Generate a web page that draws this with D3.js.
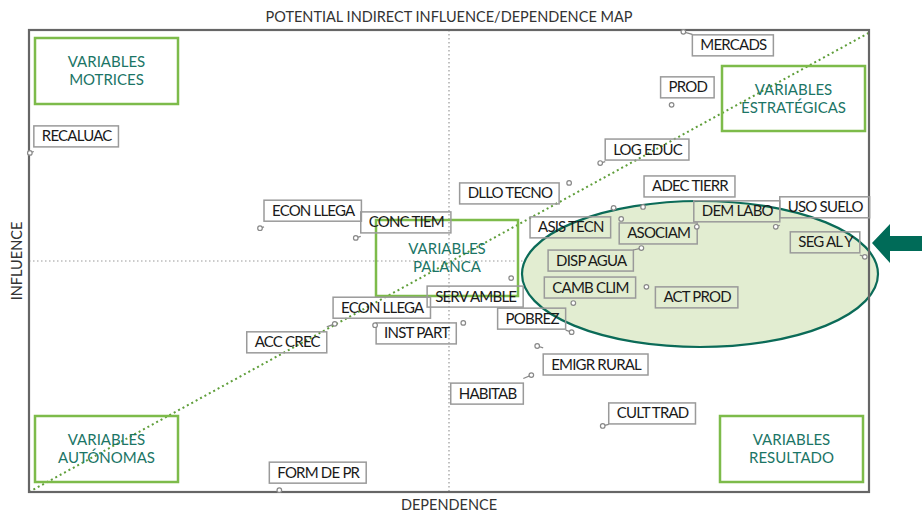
<!DOCTYPE html>
<html>
<head>
<meta charset="utf-8">
<script src="https://d3js.org/d3.v7.min.js"></script>
<style>
  body { margin: 0; background: #fff; }
  svg { font-family: Lato, "Open Sans", sans-serif; }
</style>
</head>
<body>
<svg id="map" width="922" height="513"></svg>
<script>
window.addEventListener("load", run);

// variables of the potential indirect influence / dependence map
var variables = ["MERCADS", "PROD", "LOG EDUC", "DLLO TECNO", "ADEC TIERR", "ASIS TECN", "ASOCIAM",
    "DEM LABO", "USO SUELO", "SEG AL Y", "DISP AGUA", "CAMB CLIM", "ACT PROD", "POBREZ",
    "EMIGR RURAL", "HABITAB", "CULT TRAD", "SERV AMBLE", "INST PART", "ECON LLEGA", "CONC TIEM",
    "ECON LLEGA", "RECALUAC", "ACC CREC", "FORM DE PR"];
var dependence = [77.9, 76.5, 68.0, 64.3, 73.1, 69.6, 70.5, 79.5, 88.9, 99.5, 72.9, 64.8, 73.5, 64.6,
    60.5, 59.8, 68.3, 57.4, 51.7, 41.2, 38.9, 27.5, 0.1, 36.4, 29.8];
var influence = [99.6, 83.8, 71.2, 66.9, 61.7, 61.5, 59.1, 57.4, 57.4, 50.9, 52.8, 40.9, 44.4, 34.6,
    31.6, 25.3, 14.3, 46.3, 36.6, 36.1, 55.0, 57.1, 73.4, 36.4, 0.4];

// where each label box sits relative to its point: dx, dy of box corner, side
var labelPlace = [[9,3,"start"],[-11,-28,"start"],[5,-24,"start"],[-10,0,"end"],[1,-31,"start"],
    [-3,9,"end"],[-2,4,"start"],[-3,-26,"start"],[4,-30,"start"],[-5,-25,"end"],[-8,2,"end"],
    [-29,-26,"start"],[9,0,"start"],[-6,-24,"end"],[6,8,"start"],[-8,8,"end"],[6,-23,"start"],
    [12,8,"end"],[-7,0,"end"],[-42,-28,"start"],[5,-26,"start"],[4,-28,"start"],[4,-27,"start"],
    [-8,8,"end"],[-10,-28,"start"]];

var quadrants = [
    {lines: ["VARIABLES", "MOTRICES"], x0: 35, y0: 38, x1: 178, y1: 104},
    {lines: ["VARIABLES", "ESTRATÉGICAS"], x0: 722, y0: 66, x1: 865, y1: 131},
    {lines: ["VARIABLES", "PALANCA"], x0: 376, y0: 220, x1: 518, y1: 296},
    {lines: ["VARIABLES", "AUTÓNOMAS"], x0: 35, y0: 416, x1: 178, y1: 482},
    {lines: ["VARIABLES", "RESULTADO"], x0: 720, y0: 416, x1: 863, y1: 482}
];

var TEAL = "#1b7566";
var GREEN = "#7dbb4a";

function run() {
    var svg = d3.select("#map");
    var left = 29, right = 869, top = 30, bottom = 492;

    var x = d3.scaleLinear().domain([0, 100]).range([left, right]);
    var y = d3.scaleLinear().domain([0, 100]).range([bottom, top]);

    // title and axis names
    svg.append("text")
        .attr("x", (left + right) / 2)
        .attr("y", 22)
        .style("text-anchor", "middle")
        .style("font-size", "14.5px")
        .style("fill", "#333")
        .text("POTENTIAL INDIRECT INFLUENCE/DEPENDENCE MAP");

    svg.append("text")
        .attr("x", (left + right) / 2)
        .attr("y", 510)
        .style("text-anchor", "middle")
        .style("font-size", "14.5px")
        .style("fill", "#333")
        .text("DEPENDENCE");

    svg.append("text")
        .attr("transform", "translate(22," + ((top + bottom) / 2) + ") rotate(-90)")
        .style("text-anchor", "middle")
        .style("font-size", "14.5px")
        .style("fill", "#333")
        .text("INFLUENCE");

    // dotted middle lines
    svg.append("line")
        .attr("x1", x(50)).attr("x2", x(50))
        .attr("y1", top).attr("y2", bottom)
        .style("stroke", "#999")
        .style("stroke-width", 1.2)
        .style("stroke-dasharray", "1.5,2.5");
    svg.append("line")
        .attr("x1", left).attr("x2", right)
        .attr("y1", y(50)).attr("y2", y(50))
        .style("stroke", "#999")
        .style("stroke-width", 1.2)
        .style("stroke-dasharray", "1.5,2.5");

    // diagonal
    svg.append("line")
        .attr("x1", x(0)).attr("y1", y(0))
        .attr("x2", x(100)).attr("y2", y(99.4))
        .style("stroke", "#5f9e3a")
        .style("stroke-width", 2)
        .style("stroke-dasharray", "2,3");

    // quadrant boxes
    quadrants.forEach(function (q) {
        svg.append("rect")
            .attr("x", q.x0).attr("y", q.y0)
            .attr("width", q.x1 - q.x0).attr("height", q.y1 - q.y0)
            .style("fill", "none")
            .style("stroke", GREEN)
            .style("stroke-width", 2.5);
        var cy = (q.y0 + q.y1) / 2;
        q.lines.forEach(function (l, i) {
            svg.append("text")
                .attr("x", (q.x0 + q.x1) / 2)
                .attr("y", cy + (i - 0.5) * 18)
                .attr("dy", "0.35em")
                .style("text-anchor", "middle")
                .style("font-size", "15px")
                .style("fill", TEAL)
                .text(l);
        });
    });

    // highlighted group
    svg.append("ellipse")
        .attr("cx", 700).attr("cy", 274)
        .attr("rx", 178).attr("ry", 73)
        .style("fill", "#e2edd1")
        .style("stroke", "#0b6b58")
        .style("stroke-width", 2.2);

    // frame
    svg.append("rect")
        .attr("x", left).attr("y", top)
        .attr("width", right - left).attr("height", bottom - top)
        .style("fill", "none")
        .style("stroke", "#666")
        .style("stroke-width", 2.2);

    // arrow pointing at the group
    svg.append("path")
        .attr("d", "M872,243 L890,224 L890,236 L922,236 L922,251 L890,251 L890,263 Z")
        .style("fill", "#006b58");

    // labelled points
    variables.forEach(function (name, i) {
        var px = x(dependence[i]), py = y(influence[i]);
        var p = labelPlace[i];
        var g = svg.append("g");

        var t = g.append("text")
            .style("font-size", "15px")
            .style("letter-spacing", "-0.8px")
            .style("fill", "#1a1a1a")
            .text(name);
        var w = t.node().getComputedTextLength() + 15;
        var h = 21;
        var bx = p[2] === "end" ? px + p[0] - w : px + p[0];
        var by = py + p[1];
        t.attr("x", bx + 8).attr("y", by + 15.5);

        g.insert("rect", "text")
            .attr("x", bx).attr("y", by)
            .attr("width", w).attr("height", h)
            .style("fill", "none")
            .style("stroke", "#9a9a9a")
            .style("stroke-width", 1.5);

        // leader toward the box centre, stopping at its edge
        var cx = bx + w / 2, cy = by + h / 2;
        var dx = cx - px, dy = cy - py;
        var tt = 1;
        if (dx > 0) tt = Math.min(tt, (bx - px) / dx);
        if (dx < 0) tt = Math.min(tt, (bx + w - px) / dx);
        if (dy > 0) tt = Math.min(tt, (by - py) / dy);
        if (dy < 0) tt = Math.min(tt, (by + h - py) / dy);
        tt = Math.max(tt, 0);
        g.append("line")
            .attr("x1", px).attr("y1", py)
            .attr("x2", px + dx * tt).attr("y2", py + dy * tt)
            .style("stroke", "#888")
            .style("stroke-width", 1.2);

        g.append("circle")
            .attr("cx", px).attr("cy", py)
            .attr("r", 2.3)
            .style("fill", "#fff")
            .style("stroke", "#888")
            .style("stroke-width", 1.2);
    });
}
</script>
</body>
</html>
